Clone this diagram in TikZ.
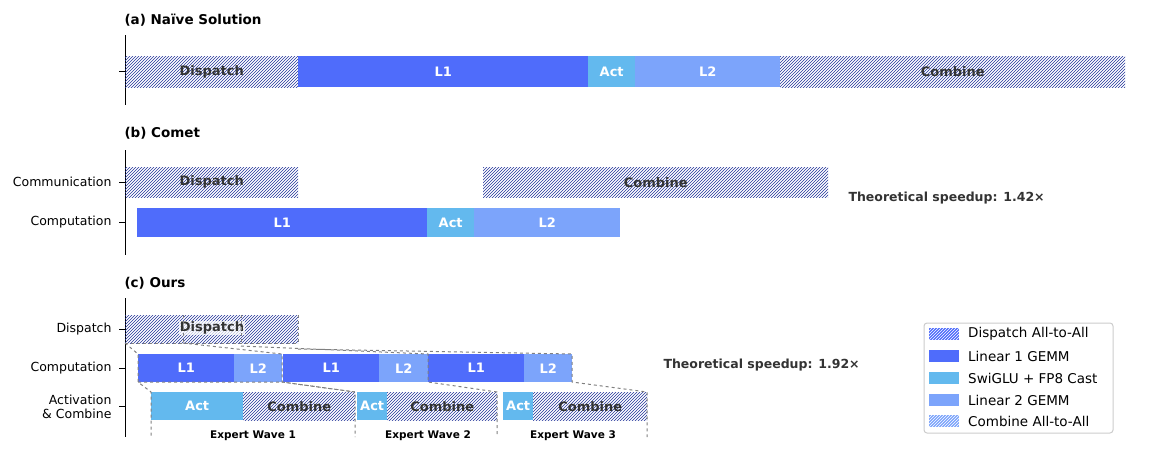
\documentclass[tikz,border=0pt]{standalone}
\usepackage{fontspec}
\setmainfont{DejaVu Sans}
\usetikzlibrary{patterns}
\definecolor{cL1}{HTML}{4F6CFB}
\definecolor{cAct}{HTML}{63B9EE}
\definecolor{cL2}{HTML}{7CA4FB}
\definecolor{hatch}{HTML}{22349A}
\definecolor{txt}{HTML}{333333}
\begin{document}
\begin{tikzpicture}[x=1pt,y=-1pt,
  bar/.style={inner sep=0pt,anchor=north west,font=\bfseries\fontsize{13}{14}\selectfont,text=white},
  hat/.style={bar,pattern=north east lines,pattern color=hatch,text=txt},
  htx/.style={font=\bfseries\fontsize{13}{14}\selectfont,text=txt},
  lab/.style={anchor=east,font=\fontsize{12.5}{14}\selectfont,align=right},
  ttl/.style={anchor=west,font=\bfseries\fontsize{13.5}{15}\selectfont},
  dsh/.style={gray,dashed,line width=1pt},
  wave/.style={font=\bfseries\fontsize{10.5}{11}\selectfont},
  sp/.style={anchor=west,font=\bfseries\fontsize{12.5}{14}\selectfont,text=txt}]
\useasboundingbox (0,0) rectangle (1150,450);
\newcommand{\seg}[6]{\node[#1,minimum width=#4-#3,minimum height=#6-#5] (#2) at (#3,#5) {};}
% (a)
\node[ttl] (ta) at (121,20) {(a) Naïve Solution};
\draw[line width=1pt] (125,35) -- (125,105);
\draw (119,71) -- (125,71);
\seg{hat}{a1}{125}{298}{56}{87}\node[htx] at (a1) {Dispatch};
\seg{bar,fill=cL1}{a2}{298}{588}{56}{87}\node[bar,anchor=center] at (a2) {L1};
\seg{bar,fill=cAct}{a3}{588}{635}{56}{87}\node[bar,anchor=center] at (a3) {Act};
\seg{bar,fill=cL2}{a4}{635}{780}{56}{87}\node[bar,anchor=center] at (a4) {L2};
\seg{hat}{a5}{780}{1125}{56}{87}\node[htx] at (a5) {Combine};
% (b)
\node[ttl] (tb) at (121,133) {(b) Comet};
\draw[line width=1pt] (125,150) -- (125,255);
\draw (119,182) -- (125,182); \draw (119,222) -- (125,222);
\node[lab] (lb1) at (115,182) {Communication};
\node[lab] (lb2) at (115,222) {Computation};
\seg{hat}{b1}{125}{298}{167}{197}\node[htx] at (b1) {Dispatch};
\seg{hat}{b2}{483}{828}{167}{197}\node[htx] at (b2) {Combine};
\seg{bar,fill=cL1}{b3}{137}{427}{208}{237}\node[bar,anchor=center] at (b3) {L1};
\seg{bar,fill=cAct}{b4}{427}{474}{208}{237}\node[bar,anchor=center] at (b4) {Act};
\seg{bar,fill=cL2}{b5}{474}{620}{208}{237}\node[bar,anchor=center] at (b5) {L2};
\node[sp] (spb) at (845,198) {Theoretical speedup: 1.42×};
% (c)
\node[ttl] (tc) at (121,283) {(c) Ours};
\draw[line width=1pt] (125,298) -- (125,437);
\draw (119,329) -- (125,329); \draw (119,368) -- (125,368); \draw (119,406) -- (125,406);
\node[lab] (lc1) at (115,329) {Dispatch};
\node[lab] (lc2) at (115,368) {Computation};
\node[lab] (lc3) at (115,407) {Activation\\\& Combine};
\seg{hat}{c0}{125}{298}{315}{343}
\node[htx,fill=white,fill opacity=0.7,text opacity=1,inner sep=1pt] at (212,328) {Dispatch};
\seg{bar,fill=cL1}{c1}{138}{234}{354}{382}\node[bar,anchor=center] at (c1) {L1};
\seg{bar,fill=cL2}{c2}{234}{282}{354}{382}\node[bar,anchor=center] at (c2) {L2};
\seg{bar,fill=cL1}{c3}{283}{379}{354}{382}\node[bar,anchor=center] at (c3) {L1};
\seg{bar,fill=cL2}{c4}{379}{428}{354}{382}\node[bar,anchor=center] at (c4) {L2};
\seg{bar,fill=cL1}{c5}{428}{524}{354}{382}\node[bar,anchor=center] at (c5) {L1};
\seg{bar,fill=cL2}{c6}{524}{572}{354}{382}\node[bar,anchor=center] at (c6) {L2};
\seg{bar,fill=cAct}{d1}{151}{243}{392}{420}\node[bar,anchor=center] at (d1) {Act};
\seg{hat}{d2}{243}{355}{392}{420}\node[htx] at (d2) {Combine};
\seg{bar,fill=cAct}{d3}{357}{387}{392}{420}\node[bar,anchor=center] at (d3) {Act};
\seg{hat}{d4}{387}{497}{392}{420}\node[htx] at (d4) {Combine};
\seg{bar,fill=cAct}{d5}{503}{533}{392}{420}\node[bar,anchor=center] at (d5) {Act};
\seg{hat}{d6}{533}{647}{392}{420}\node[htx] at (d6) {Combine};
% dashed wave outlines
\draw[dsh] (183,315) -- (183,343); \draw[dsh] (241,315) -- (241,343); \draw[dsh] (298,315) -- (298,343);
\draw[dsh] (125,343) -- (298,343);
\draw[dsh] (125,343) -- (138,354) -- (138,382) -- (151,392) -- (151,437);
\draw[dsh] (183,343) -- (282,354) -- (282,382) -- (355,392) -- (355,437);
\draw[dsh] (241,346) -- (428,354) -- (428,382) -- (497,392) -- (497,437);
\draw[dsh] (298,349) -- (572,354) -- (572,382) -- (647,392) -- (647,437);
\draw[dsh] (138,382) -- (282,382) (282,382) -- (355,392);
\node[wave] (w1) at (253,436) {Expert Wave 1};
\node[wave] (w2) at (428,436) {Expert Wave 2};
\node[wave] (w3) at (573,436) {Expert Wave 3};
\node[sp] (spc) at (660,365) {Theoretical speedup: 1.92×};
% legend
\draw[rounded corners=3pt,draw=black!20,line width=1pt,fill=white] (924,323) rectangle (1113,433);
\foreach \yy/\c/\t [count=\i] in {334/cL1/Dispatch All-to-All,356/cL1/Linear 1 GEMM,378/cAct/SwiGLU + FP8 Cast,400/cL2/Linear 2 GEMM,421/cL2/Combine All-to-All}{
  \fill[\c] (929,\yy-6) rectangle (959,\yy+6);
  \node[anchor=west,font=\fontsize{13.5}{15}\selectfont,inner sep=0pt] (leg\i) at (968,\yy) {\t};
}
\fill[pattern=north east lines,pattern color=white] (929,328) rectangle (959,340);
\fill[pattern=north east lines,pattern color=white] (929,415) rectangle (959,427);
\end{tikzpicture}
\end{document}
